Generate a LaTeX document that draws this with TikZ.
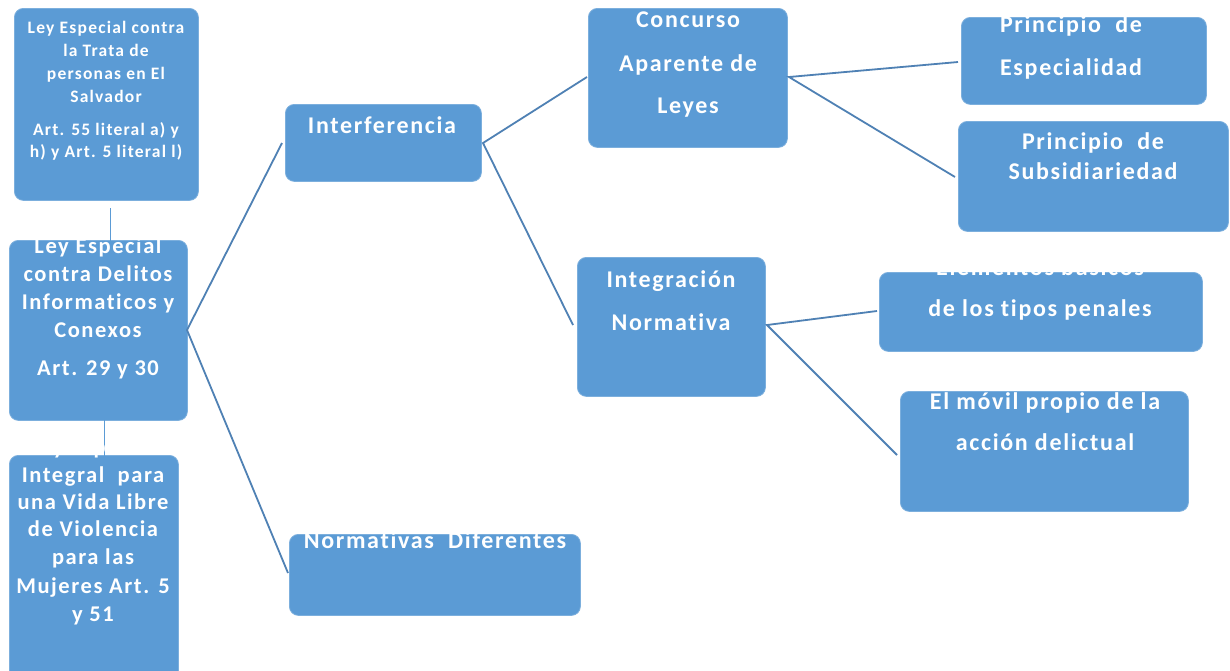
\documentclass[tikz,border=0pt]{standalone}
\usepackage{fontspec}
\setmainfont{Carlito}[LetterSpace=7,Ligatures={NoCommon}]
\definecolor{boxblue}{HTML}{5B9BD5}
\definecolor{linkblue}{HTML}{4F81B4}
\tikzset{
  box/.style={fill=boxblue, draw=boxblue!80!white, line width=0.8pt, rounded corners=9pt, anchor=north west, inner sep=0pt},
  txt/.style={text=white, font=\bfseries, inner sep=0pt, text height=0.62em, text depth=0.3em, anchor=center, yshift=-6pt},
  s15/.style={font=\fontsize{17.5}{20}\selectfont\bfseries},
  s20/.style={font=\fontsize{22.5}{26}\selectfont\bfseries},
  s22/.style={font=\fontsize{24}{28}\selectfont\bfseries},
  link/.style={draw=linkblue, line width=1.8pt},
  thin/.style={draw=boxblue, line width=1pt}
}
\begin{document}
\begin{tikzpicture}[x=1pt,y=-1pt]
\useasboundingbox[fill=white] (0,0) rectangle (1230,670);
% boxes
\node[box, minimum width=184, minimum height=192] (trata) at (14,8) {};
\node[box, minimum width=178, minimum height=180] (delitos) at (9,240) {};
\node[box, minimum width=169, minimum height=225] (mujeres) at (9,455) {};
\node[box, minimum width=196, minimum height=77] (interf) at (285,104) {};
\node[box, minimum width=291, minimum height=81] (normdif) at (289,534) {};
\node[box, minimum width=199, minimum height=139] (concurso) at (588,8) {};
\node[box, minimum width=188, minimum height=139] (integ) at (577,257) {};
\node[box, minimum width=245, minimum height=87] (espec) at (961,17) {};
\node[box, minimum width=270, minimum height=110] (subsid) at (958,121) {};
\node[box, minimum width=323, minimum height=79] (elem) at (879,272) {};
\node[box, minimum width=288, minimum height=120] (movil) at (900,391) {};
% connector end points
\coordinate (dR) at (187,330);
\coordinate (iL) at (282,143);
\coordinate (nL) at (288,573);
\coordinate (iR) at (483,143);
\coordinate (cL) at (587,77);
\coordinate (gL) at (573,325);
\coordinate (cR) at (789,77);
\coordinate (eL) at (958,62);
\coordinate (sL) at (955,177);
\coordinate (gR) at (767,325);
\coordinate (elL) at (877,311);
\coordinate (mL) at (897,455);
\coordinate (tB) at (110,208);
\coordinate (dT) at (110,252);
\coordinate (dB) at (104,420);
\coordinate (mT) at (104,466);
% connectors
\draw[link] (iL) -- (dR) -- (nL);
\draw[link] (cL) -- (iR) -- (gL);
\draw[link] (eL) -- (cR) -- (sL);
\draw[link] (elL) -- (gR) -- (mL);
\draw[thin] (tB) -- (dT);
\draw[thin] (dB) -- (mT);
% texts
\node[txt,s15] (t1a) at (106,26) {Ley Especial contra};
\node[txt,s15] (t1b) at (106,49) {la Trata de};
\node[txt,s15] (t1c) at (106,72) {personas en El};
\node[txt,s15] (t1d) at (106,95) {Salvador};
\node[txt,s15] (t1e) at (106,128) {Art. 55 literal a) y};
\node[txt,s15] (t1f) at (106,150) {h) y Art. 5 literal l)};
\node[txt,s20] (t2a) at (98,246) {Ley Especial};
\node[txt,s20] (t2b) at (98,274) {contra Delitos};
\node[txt,s20] (t2c) at (98,302) {Informaticos y};
\node[txt,s20] (t2d) at (98,330) {Conexos};
\node[txt,s20] (t2e) at (98,368) {Art. 29 y 30};
\node[txt,s20] (t3a) at (93,447) {Ley Especial};
\node[txt,s20] (t3b) at (93,475) {Integral \ para};
\node[txt,s20] (t3c) at (93,502) {una Vida Libre};
\node[txt,s20] (t3d) at (93,529) {de Violencia};
\node[txt,s20] (t3e) at (93,557) {para las};
\node[txt,s20] (t3f) at (93,586) {Mujeres Art. 5};
\node[txt,s20] (t3g) at (93,614) {y 51};
\node[txt,s22] (t4) at (382,126) {Interferencia};
\node[txt,s22] (t5) at (435,541) {Normativas \ Diferentes};
\node[txt,s22] (t6a) at (688,20) {Concurso};
\node[txt,s22] (t6b) at (688,64) {Aparente de};
\node[txt,s22] (t6c) at (688,106) {Leyes};
\node[txt,s22] (t7a) at (671,280) {Integración};
\node[txt,s22] (t7b) at (671,323) {Normativa};
\node[txt,s22] (t8a) at (1071,25) {Principio \ de};
\node[txt,s22] (t8b) at (1071,68) {Especialidad};
\node[txt,s22] (t9a) at (1093,142) {Principio \ de};
\node[txt,s22] (t9b) at (1093,172) {Subsidiariedad};
\node[txt,s22] (t10a) at (1040,268) {Elementos básicos};
\node[txt,s22] (t10b) at (1040,309) {de los tipos penales};
\node[txt,s22] (t11a) at (1045,402) {El móvil propio de la};
\node[txt,s22] (t11b) at (1045,443) {acción delictual};
\end{tikzpicture}
\end{document}
